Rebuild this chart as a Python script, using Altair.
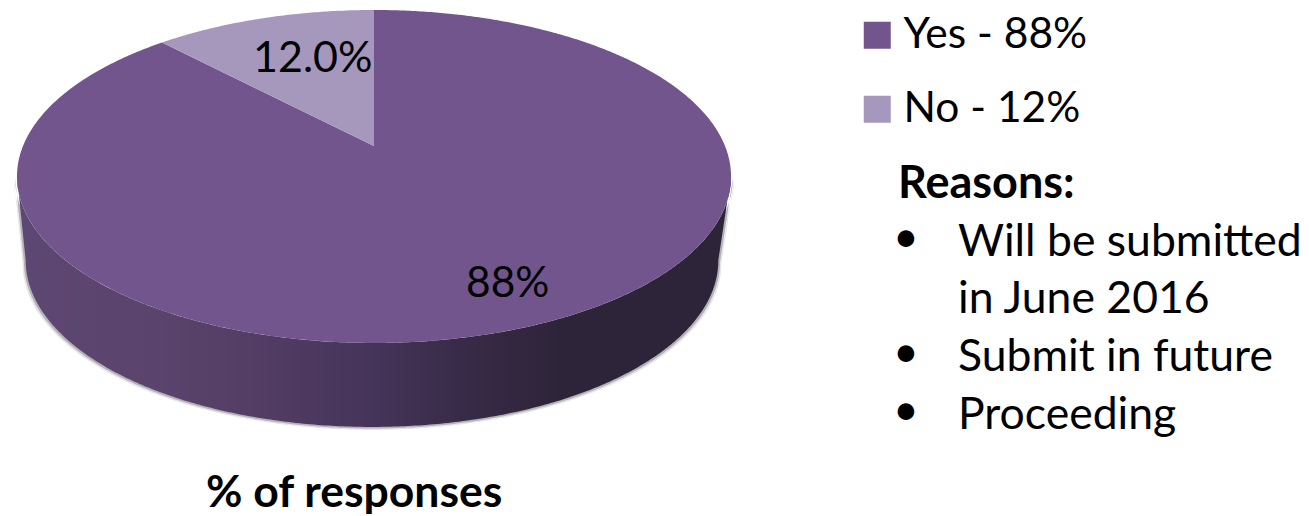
import math
import altair as alt

# Survey result
categories = ["Yes - 88%", "No - 12%"]
shares = [88, 12]
slice_colors = ["#72558c", "#a698bc"]
value_labels = ["88%", "12.0%"]
chart_title = "% of responses"
reasons_heading = "Reasons:"
reason_lines = ["Will be submitted", "in June 2016", "Submit in future", "Proceeding"]

# Tilted-disc projection used for the 3D pie (plot units, y pointing up)
SPREAD_X, SPREAD_Y, TILT = 351.0, 160.9, 0.183
DEPTH, BASE_SHRINK, BASE_SHIFT = 84.0, 0.97, -2.0
STEPS = 720


def rim(turn):
    angle = 2 * math.pi * turn
    u, v = math.sin(angle), math.cos(angle)
    w = 1 + TILT * v
    return [SPREAD_X * u / w, SPREAD_Y * v / w]


def feature(name, ring):
    return {
        "type": "Feature",
        "properties": {"name": name},
        "geometry": {"type": "Polygon", "coordinates": [ring + [ring[0]]]},
    }


# Slices run clockwise from twelve o'clock
total = sum(shares)
slices = []
start = 0.0
for name, share in zip(categories, shares):
    end = start + share / total
    count = max(2, int(STEPS * (end - start)))
    arc = [rim(start + (end - start) * i / count) for i in range(count + 1)]
    slices.append(feature(name, [[0.0, 0.0]] + arc))
    start = end

# The visible wall joins the front half of the rim to the lowered base rim
outline = [rim(i / STEPS) for i in range(STEPS)]
right = max(range(STEPS), key=lambda i: outline[i][0])
left = min(range(STEPS), key=lambda i: outline[i][0])
front = outline[right : left + 1]
base = [[p[0] * BASE_SHRINK + BASE_SHIFT, p[1] - DEPTH] for p in reversed(front)]
wall_ring = front + base
wall = [feature("wall", wall_ring)]


def halo(grow, drop):
    # Soft drop shadow: a slightly enlarged copy of the wall
    return [feature("shadow", [[p[0] * grow, p[1] - drop] for p in wall_ring])]


projection = dict(type="identity", reflectY=True, scale=1, translate=[374, 146])

shadow_outer = alt.Chart(alt.Data(values=halo(1.009, 3.0))).mark_geoshape(
    fill="#e6e5e8", stroke=None
).project(**projection)

shadow_inner = alt.Chart(alt.Data(values=halo(1.005, 1.6))).mark_geoshape(
    fill="#b4b2b6", stroke=None
).project(**projection)

wall_layer = alt.Chart(alt.Data(values=wall)).mark_geoshape(
    fill=alt.Gradient(
        gradient="linear",
        x1=0, x2=1, y1=0, y2=0,
        stops=[
            alt.GradientStop(color="#5d4873", offset=0),
            alt.GradientStop(color="#5a436c", offset=0.2),
            alt.GradientStop(color="#563f66", offset=0.3),
            alt.GradientStop(color="#453459", offset=0.5),
            alt.GradientStop(color="#382b48", offset=0.62),
            alt.GradientStop(color="#2e2439", offset=0.76),
            alt.GradientStop(color="#2e2439", offset=1),
        ],
    ),
    stroke=None,
).project(**projection)

slice_layer = alt.Chart(alt.Data(values=slices)).mark_geoshape(stroke=None).encode(
    color=alt.Color(
        "properties.name:N",
        scale=alt.Scale(domain=categories, range=slice_colors),
        legend=alt.Legend(
            orient="none",
            legendX=856,
            legendY=14,
            padding=0,
            title=None,
            symbolType="square",
            symbolSize=729,
            symbolStrokeWidth=0,
            symbolOpacity=1,
            labelFont="Lato",
            labelFontSize=42.5,
            labelColor="#000000",
            labelOffset=5,
            rowPadding=31,
            labelLimit=300,
        ),
    )
).project(**projection)


def text(content, x, y, size=44.5, weight="normal"):
    return alt.Chart(alt.Data(values=[{"label": content}])).mark_text(
        font="Lato",
        fontSize=size,
        fontWeight=weight,
        color="#000000",
        align="left",
        baseline="alphabetic",
    ).encode(x=alt.value(x), y=alt.value(y), text="label:N")


layers = [
    shadow_outer,
    shadow_inner,
    wall_layer,
    slice_layer,
    text(value_labels[1], 253, 72, size=43),
    text(value_labels[0], 466, 297, size=42.5),
    text(chart_title, 206, 507, weight="bold"),
    text(reasons_heading, 898, 198, size=45, weight="bold"),
    text(reason_lines[0], 958, 256),
    text(reason_lines[1], 958, 313),
    text(reason_lines[2], 958, 371),
    text(reason_lines[3], 958, 429),
    text("•", 893, 252),
    text("•", 893, 367),
    text("•", 893, 425),
]

chart = (
    alt.layer(*layers)
    .properties(width=1309, height=516, padding=0, autosize=alt.AutoSizeParams(type="none"))
    .configure_view(stroke=None)
)

chart.save("out.html", embed_options={"renderer": "svg", "actions": False})
